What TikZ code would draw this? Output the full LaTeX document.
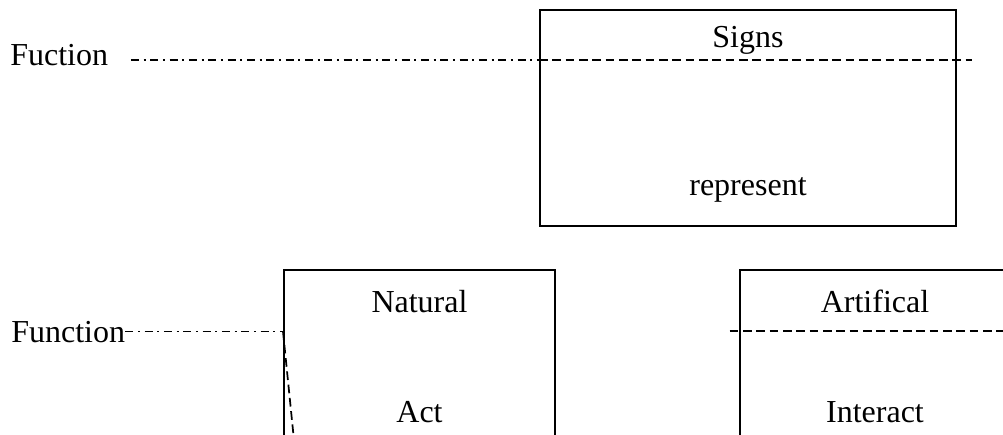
\documentclass[tikz,border=0pt]{standalone}
\usepackage{fontspec}
\setmainfont{Liberation Serif}
\usepackage{tikz}
\usetikzlibrary{positioning}

\begin{document}
\begin{tikzpicture}[
                x=0.75pt, y=-0.75pt,
                every node/.style={font=\fontsize{24}{28}\selectfont},
                frame/.style={draw, rectangle, line width=1.5pt, inner sep=0pt},
                word/.style={anchor=base, inner sep=0pt},
                dashdot/.style={line width=1.3pt, dash pattern=on 6pt off 3.5pt on 1.5pt off 3.5pt},
                dashline/.style={line width=1.3pt, dash pattern=on 6.5pt off 3.5pt}
            ]

            \path[use as bounding box] (0,0) rectangle (1003,435);
            \clip (0,0) rectangle (1003,435);

            % Les cadres
            \node[frame, minimum width=312pt, minimum height=162pt] (signs) at (748,118) {};
            \node[frame, minimum width=203.25pt, minimum height=217.5pt] (nat) at (419.5,415) {};
            \node[frame, minimum width=202.5pt, minimum height=217.5pt] (art) at (875,415) {};

            % Les textes
            \node[word] (signsT) at (748,48) {Signs};
            \node[word] (repr) at (748,195) {represent};
            \node[word] (natT) at (419.5,312) {Natural};
            \node[word] (act) at (419.5,422) {Act};
            \node[word] (artT) at (875,312) {Artifical};
            \node[word] (inter) at (875,422) {Interact};
            \node[word, anchor=base west] (fuc) at (10,65) {Fuction};
            \node[word, anchor=base west] (fun) at (11,342) {Function};

            % Les lignes
            \coordinate (sigcut) at (signs.west |- 0,60);
            \coordinate (sigend) at (972,60);
            \coordinate (natcut) at (nat.west |- fun.east);
            \coordinate (slant) at (296,460);
            \coordinate (artcut) at (art.west |- 0,331);

            \draw[dashdot] ([xshift=17pt]fuc.east |- sigcut) -- (sigcut);
            \draw[dashline] (sigcut) -- (sigend);
            \draw[dashdot] (fun.east) -- (natcut);
            \draw[dashline] (natcut) -- (slant);
            \draw[dashline] ([xshift=-7pt]artcut) -- (art.east |- artcut);

        \end{tikzpicture}
\end{document}
